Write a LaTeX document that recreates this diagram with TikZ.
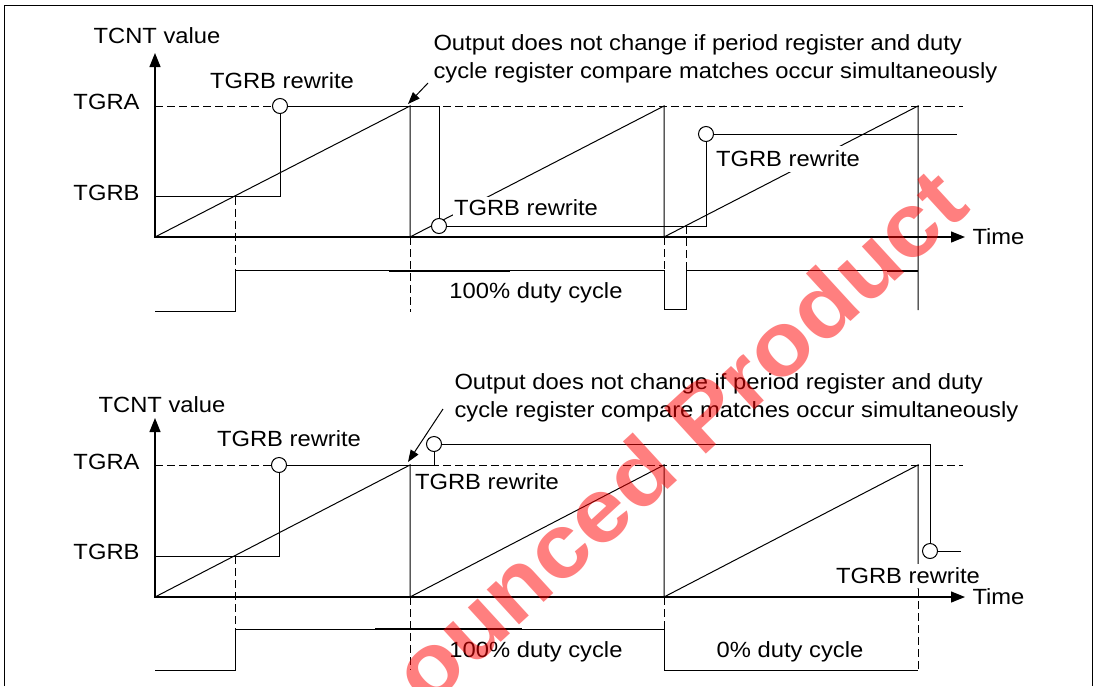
\documentclass[tikz,border=0pt]{standalone}
\usepackage{fontspec}
\setmainfont{Liberation Sans}[FakeStretch=1.08]
\usetikzlibrary{arrows.meta}

\begin{document}
\begin{tikzpicture}[
    x=1pt, y=-1pt,
    line width=1pt,
    every node/.style={
        font=\fontsize{22}{28}\selectfont,
        inner sep=0pt
    },
    axisline/.style={
        line width=1.2pt,
        {Triangle[length=14pt,width=11pt]}-{Triangle[length=14pt,width=11pt]}
    },
    guide/.style={dash pattern=on 8pt off 4pt},
    heavy/.style={line width=2pt},
    rewritedot/.style={circle, draw, fill=white, minimum size=15pt},
    tag/.style={fill=white, inner xsep=1pt, inner ysep=3pt},
    notearrow/.style={-{Triangle[length=12pt,width=9pt]}}
]

\useasboundingbox (0,0) rectangle (1101,686);
\draw (4,686) -- (4,5) -- (1092,5) -- (1092,686);

% upper chart
\node (ylabA) at (157,36) {TCNT value};
\node[anchor=east] (tgraA) at (140,102) {TGRA};
\node[anchor=east] (tgrbA) at (140,193) {TGRB};
\draw[axisline] (155,53) -- (155,237) -- (965,237);
\node[anchor=west] (timeA) at (972,237) {Time};
\draw[guide] (155,106) -- (963,106);

\draw (155,237) -- (410,106) -- (410,237) -- (664,106) -- (664,237) -- (918,106) -- (918,310);

\node[rewritedot] (b1A) at (280,106) {};
\node[rewritedot] (b2A) at (439,226) {};
\node[rewritedot] (b3A) at (706,134) {};
\draw (155,196.7) -| (b1A);
\draw (b1A) -| (b2A);
\draw (b2A) -| (b3A);
\draw (b3A) -- (957,134);

\node[tag] (rwA1) at (282,81) {TGRB rewrite};
\node[tag] (rwA2) at (526,208) {TGRB rewrite};
\node[tag, inner ysep=5pt] (rwA3) at (788,159) {TGRB rewrite};

\node[anchor=west, align=left] (noteA) at (433,58.5)
    {Output does not change if period register and duty\\cycle register compare matches occur simultaneously};
\coordinate (nA) at (428,83);
\coordinate (pkA) at (408,104);
\draw[notearrow] (nA) -- (pkA);

\draw (155,311) -- (235.7,311) -- (235.7,270.7) -- (664,270.7) -- (664,309.5)
    -- (686,309.5) -- (686,270.7) -- (918,270.7);
\draw[heavy] (389,270.7) -- (510,270.7);
\draw[heavy] (887,270.7) -- (918,270.7);
\draw[guide] (235.7,196.7) -- (235.7,311);
\draw[guide] (410,237) -- (410,312);
\draw[guide] (664,237) -- (664,270.7);
\draw[guide] (686,226) -- (686,270.7);
\node (dutyA) at (536,293) {100\% duty cycle};

% lower chart
\node (ylabB) at (162,405) {TCNT value};
\node[anchor=east] (tgraB) at (140,462) {TGRA};
\node[anchor=east] (tgrbB) at (140,552) {TGRB};
\draw[axisline] (155,418) -- (155,597) -- (965,597);
\draw[guide] (155,465) -- (963,465);

\draw (155,597) -- (410,465) -- (410,597) -- (664,465) -- (664,597) -- (918,465) -- (918,589);

\node[rewritedot] (b1B) at (279,465) {};
\node[rewritedot] (b2B) at (434,444) {};
\node[rewritedot] (b3B) at (930,551) {};
\draw (155,556) -| (b1B);
\draw (b1B) -| (b2B);
\draw (b2B) -| (b3B);
\draw (b3B) -- (961,551);

\node[tag] (rwB1) at (289,439) {TGRB rewrite};
\node[tag] (rwB2) at (487,482) {TGRB rewrite};
\node[tag, inner ysep=4pt] (rwB3) at (908,576) {TGRB rewrite};
\node[anchor=west] (timeB) at (972,597) {Time};

\node[anchor=west, align=left] (noteB) at (454,398)
    {Output does not change if period register and duty\\cycle register compare matches occur simultaneously};
\coordinate (nB) at (443,409);
\coordinate (pkB) at (408,462);
\draw[notearrow] (nB) -- (pkB);

\draw (155,670) -- (235.7,670) -- (235.7,629) -- (664,629) -- (664,670) -- (918,670);
\draw[heavy] (375,629) -- (522,629);
\draw[guide] (235.7,556) -- (235.7,670);
\draw[guide] (410,597) -- (410,670);
\draw[guide] (664,597) -- (664,629);
\draw[guide] (918,589) -- (918,670);
\node (dutyB1) at (536,652) {100\% duty cycle};
\node (dutyB2) at (790,652) {0\% duty cycle};

% watermark
\begin{scope}
\clip (0,0) rectangle (1101,686);
\node[rotate=42.5, anchor=base, text=red, text opacity=0.5,
    font=\fontsize{90}{90}\bfseries\selectfont] (mark) at (700,460) {ounced Product};
\end{scope}

\end{tikzpicture}
\end{document}
